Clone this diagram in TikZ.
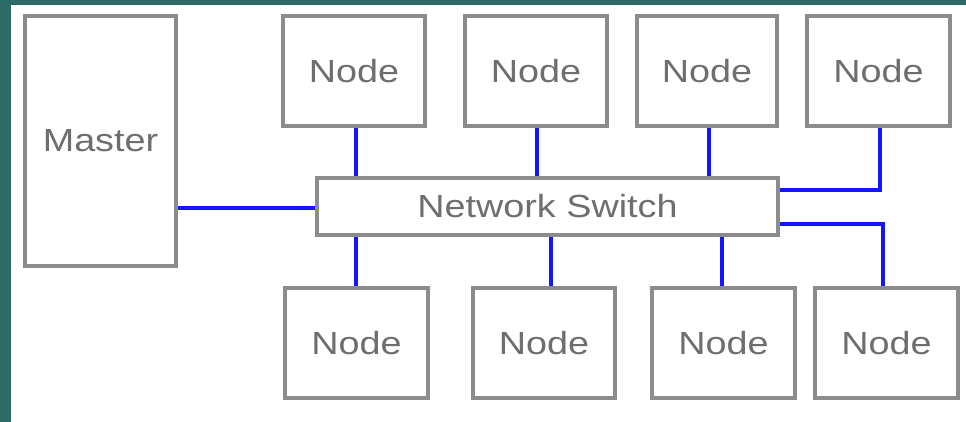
\documentclass[tikz,border=0pt]{standalone}
\usepackage{fontspec}
\newfontfamily\diagfont[FakeStretch=1.18]{Liberation Sans}
\definecolor{teal0}{HTML}{2C6A66}
\definecolor{boxgray}{HTML}{8C8C8C}
\definecolor{txtgray}{HTML}{6E6E6E}
\definecolor{linkblue}{HTML}{1414FF}
\begin{document}
\begin{tikzpicture}[x=1pt,y=-1pt,
  box/.style={draw=boxgray, line width=4pt, fill=white, inner sep=0pt,
    font=\diagfont\fontsize{32}{38}\selectfont, text=txtgray},
  link/.style={draw=linkblue, line width=3.6pt}]
\useasboundingbox (0,0) rectangle (966,422);
\fill[teal0] (0,0) rectangle (966,422);
\fill[white] (11,5) rectangle (966,422);
% boxes
\node[box, minimum width=151pt, minimum height=250pt] (M) at (100.5,141) {Master};
\node[box, minimum width=461pt, minimum height=57pt] (S) at (547.5,206.5) {Network Switch};
\node[box, minimum width=142pt, minimum height=110pt] (T1) at (354,71) {Node};
\node[box, minimum width=142pt, minimum height=110pt] (T2) at (536,71) {Node};
\node[box, minimum width=140pt, minimum height=110pt] (T3) at (707,71) {Node};
\node[box, minimum width=143pt, minimum height=110pt] (T4) at (878.5,71) {Node};
\node[box, minimum width=143pt, minimum height=110pt] (B1) at (356.5,343) {Node};
\node[box, minimum width=142pt, minimum height=110pt] (B2) at (544,343) {Node};
\node[box, minimum width=143pt, minimum height=110pt] (B3) at (723.5,343) {Node};
\node[box, minimum width=143pt, minimum height=110pt] (B4) at (886.5,343) {Node};
% links
\draw[link] (M.east |- 0,208) -- (S.west |- 0,208);
\draw[link] ([xshift=2pt]T1.south) -- ([xshift=2pt]T1.south |- S.north);
\draw[link] ([xshift=1pt]T2.south) -- ([xshift=1pt]T2.south |- S.north);
\draw[link] ([xshift=2pt]T3.south) -- ([xshift=2pt]T3.south |- S.north);
\draw[link] ([xshift=1.5pt]T4.south) |- (S.east |- 0,190);
\draw[link] ([xshift=-0.5pt]B1.north) -- ([xshift=-0.5pt]B1.north |- S.south);
\draw[link] ([xshift=7pt]B2.north) -- ([xshift=7pt]B2.north |- S.south);
\draw[link] ([xshift=-1.5pt]B3.north) -- ([xshift=-1.5pt]B3.north |- S.south);
\draw[link] ([xshift=-3.5pt]B4.north) |- (S.east |- 0,224);
\end{tikzpicture}
\end{document}
